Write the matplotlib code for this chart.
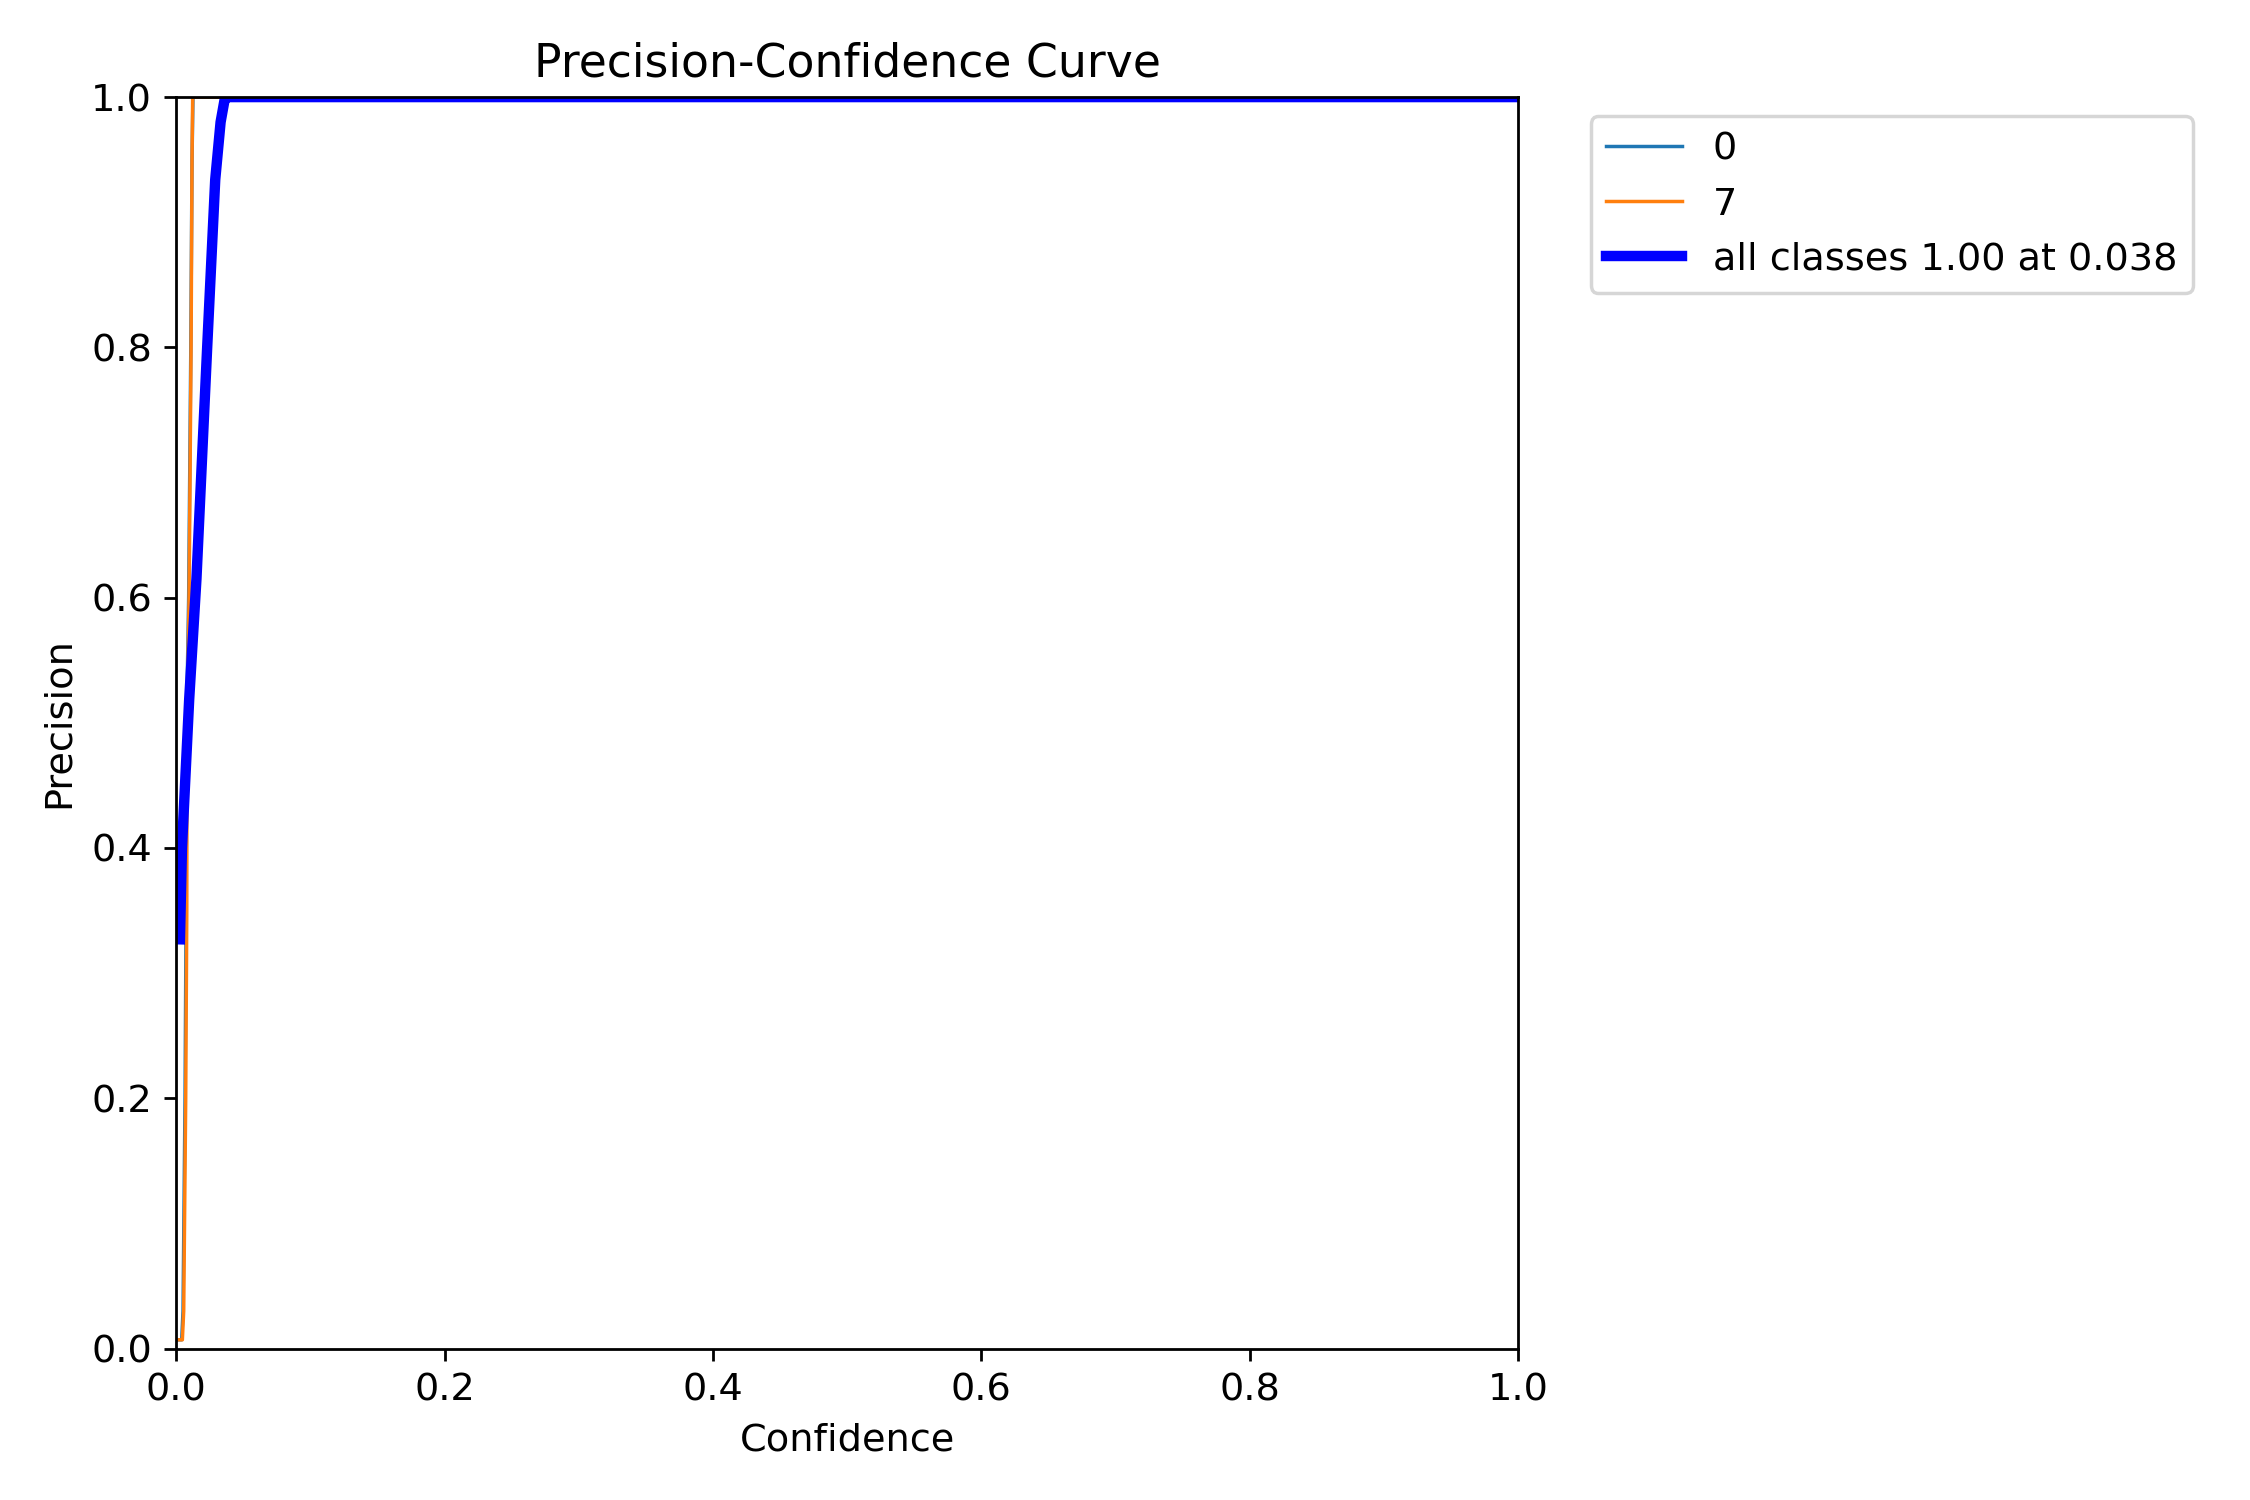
import matplotlib
matplotlib.use("Agg")
import matplotlib.pyplot as plt

plt.rcParams["font.size"] = 11

# values (confidence, precision)
class0_conf = [0.0, 0.0040, 0.0050, 0.0065, 0.0073, 0.0076, 0.0092, 0.0108, 0.0117, 0.0124, 1.0]
class0_prec = [0.007, 0.007, 0.03, 0.2, 0.35, 0.5, 0.6, 0.8, 0.95, 1.0, 1.0]

class7_conf = [0.0, 0.0045, 0.0055, 0.0070, 0.0078, 0.0080, 0.0095, 0.0110, 0.0117, 0.0122, 1.0]
class7_prec = [0.007, 0.007, 0.03, 0.2, 0.35, 0.5, 0.6, 0.8, 0.95, 1.0, 1.0]

all_conf = [0.0027, 0.0042, 0.0096, 0.015, 0.023, 0.029, 0.033, 0.036, 0.038, 1.0]
all_prec = [0.327, 0.40, 0.519, 0.615, 0.80, 0.934, 0.98, 0.998, 1.0, 1.0]

names = ["0", "7"]

fig, ax = plt.subplots(1, 1, figsize=(9, 6), tight_layout=True)

ax.plot(class0_conf, class0_prec, linewidth=1, label=names[0])
ax.plot(class7_conf, class7_prec, linewidth=1, label=names[1])
ax.plot(all_conf, all_prec, linewidth=3, color="blue", label="all classes 1.00 at 0.038")

ax.set_xlabel("Confidence")
ax.set_ylabel("Precision")
ax.set_xlim(0, 1)
ax.set_ylim(0, 1)
ax.legend(bbox_to_anchor=(1.04, 1), loc="upper left")
ax.set_title("Precision-Confidence Curve")

fig.savefig("out.png", dpi=250)
